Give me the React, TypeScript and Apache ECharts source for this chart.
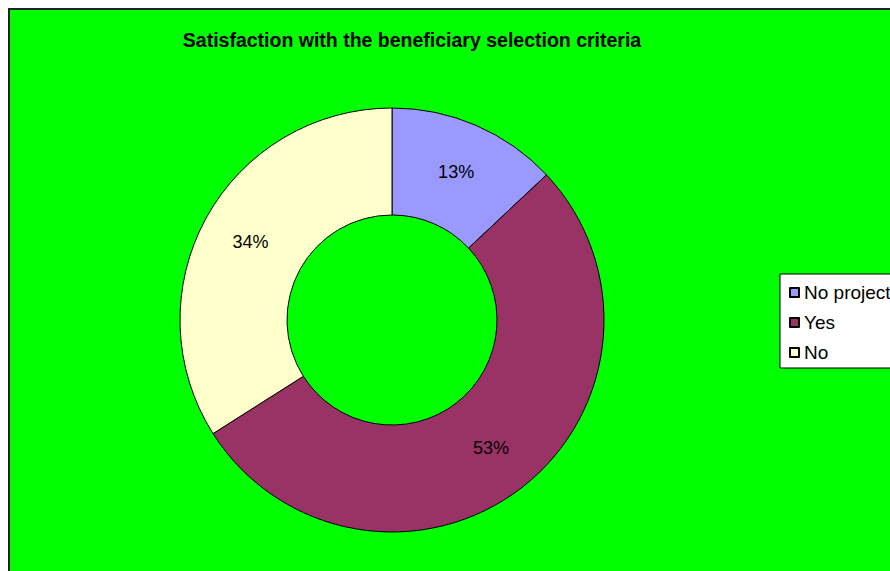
import React, { useEffect, useRef } from "react";
import * as echarts from "echarts";

const categories = ["No project", "Yes", "No"];
const values = [13, 53, 34];
const colors = ["#9999FF", "#993366", "#FFFFCC"];
const title = "Satisfaction with the beneficiary selection criteria";

export default function App() {
  const ref = useRef<HTMLDivElement>(null);
  useEffect(() => {
    if (!ref.current) return;
    const chart = echarts.init(ref.current, null, { renderer: "svg" });
    const FONT = "'Liberation Sans', Arial, sans-serif";
    chart.setOption({
      animation: false,
      backgroundColor: "#00FF00",
      title: {
        text: title,
        left: 402,
        top: 20,
        textAlign: "center",
        padding: 0,
        textStyle: { fontFamily: FONT, fontWeight: "bold", fontSize: 19.5, color: "#000" },
      },
      legend: {
        orient: "vertical",
        left: 770,
        top: 264,
        padding: [9, 40, 6, 9],
        itemGap: 11,
        itemWidth: 9,
        itemHeight: 9,
        icon: "rect",
        backgroundColor: "#FFFFFF",
        borderColor: "#000",
        borderWidth: 1,
        borderRadius: 0,
        data: categories,
        textStyle: { fontFamily: FONT, fontSize: 19, color: "#000", lineHeight: 18 },
      },
      series: [
        {
          type: "pie",
          center: [382, 310],
          radius: [105, 212],
          startAngle: 90,
          clockwise: true,
          avoidLabelOverlap: false,
          label: {
            show: true,
            position: "inside",
            formatter: "{c}%",
            fontFamily: FONT,
            fontSize: 18,
            color: "#000",
          },
          labelLine: { show: false },
          emphasis: { disabled: true },
          itemStyle: { borderColor: "#000", borderWidth: 1 },
          data: categories.map((name, i) => ({
            name,
            value: values[i],
            itemStyle: { color: colors[i] },
          })),
        },
      ],
    });
    return () => chart.dispose();
  }, []);
  return (
    <div
      style={{
        position: "fixed",
        left: 8,
        top: 8,
        width: 882,
        height: 563,
        boxSizing: "border-box",
        borderLeft: "2px solid #222",
        borderTop: "2px solid #222",
        background: "#00FF00",
        overflow: "hidden",
      }}
    >
      <div ref={ref} style={{ width: 880, height: 561 }} />
    </div>
  );
}
